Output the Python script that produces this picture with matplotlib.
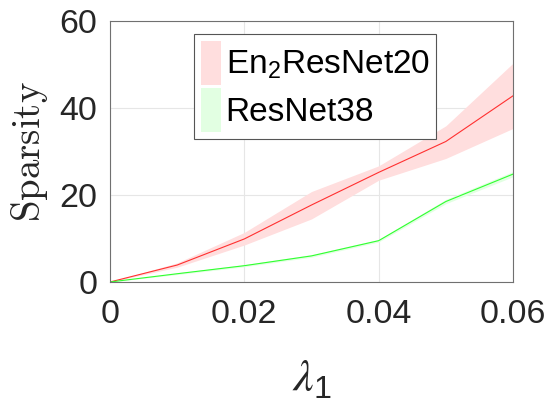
import matplotlib.pyplot as plt
from matplotlib.patches import Patch

plt.rcParams['font.family'] = ['Liberation Sans', 'DejaVu Sans']
plt.rcParams['mathtext.default'] = 'regular'

# data
lam = [0, 0.01, 0.02, 0.03, 0.04, 0.05, 0.06]
en2_mean = [0, 3.9, 9.9, 17.7, 25.2, 32.3, 42.8]
en2_low = [0, 3.4, 8.5, 14.5, 23.4, 28.4, 35.3]
en2_high = [0, 4.4, 11.4, 20.8, 26.7, 35.9, 50.3]
res38_mean = [0, 1.9, 3.75, 6.0, 9.5, 18.5, 24.8]
res38_low = [0, 1.7, 3.5, 5.7, 9.2, 18.0, 24.2]
res38_high = [0, 2.1, 4.0, 6.3, 9.8, 19.0, 25.4]

fig = plt.figure(figsize=(5.52, 4.01), dpi=100)
ax = fig.add_axes([110/552, 1-282/401, (513-110)/552, (282-21)/401])

ax.fill_between(lam, en2_low, en2_high, color='#ffdede', lw=0)
ax.fill_between(lam, res38_low, res38_high, color='#e2ffe2', lw=0)
ax.plot(lam, en2_mean, color='#ff3030', lw=0.8)
ax.plot(lam, res38_mean, color='#30ff30', lw=0.8)

ax.set_xlim(0, 0.06)
ax.set_ylim(0, 60)
ax.set_xticks([0, 0.02, 0.04, 0.06])
ax.set_xticklabels(['0', '0.02', '0.04', '0.06'])
ax.set_yticks([0, 20, 40, 60])
ax.tick_params(labelsize=24.5, colors='#262626', length=0)
ax.tick_params(axis='x', pad=12)
ax.tick_params(axis='y', pad=9)
ax.grid(True, color='#e6e6e6', lw=0.8)
ax.set_axisbelow(True)
for s in ax.spines.values():
    s.set_color('#707070')
    s.set_linewidth(0.8)

ax.set_ylabel(r'$\mathrm{Sparsity}$', math_fontfamily='cm', fontsize=28, color='#262626')
ax.yaxis.set_label_coords(-0.148, 0.5)
ax.set_xlabel(r'$\mathit{\lambda}_{\mathregular{1}}$', math_fontfamily='stix', fontsize=33, color='#262626')
ax.xaxis.set_label_coords(0.5, -0.29)

handles = [Patch(facecolor='#ffdede', edgecolor='none'), Patch(facecolor='#e2ffe2', edgecolor='none')]
leg = ax.legend(handles, ['En$_2$ResNet20', 'ResNet38'], loc='upper left',
                bbox_to_anchor=((194-110)/403, 1-(34-21)/261), fontsize=24,
                fancybox=False, framealpha=1, edgecolor='#555555',
                handlelength=0.6, handleheight=1.65, handletextpad=0.15,
                borderpad=0.2, labelspacing=0.1, borderaxespad=0)
leg.get_frame().set_linewidth(0.8)

fig.savefig('out.png', dpi=100)
